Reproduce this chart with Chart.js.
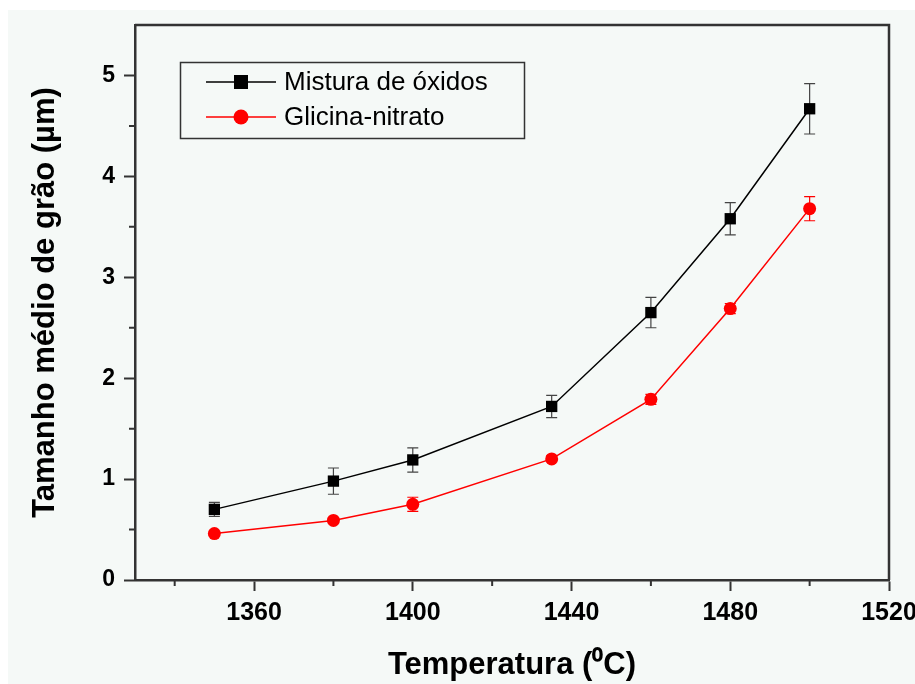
<!DOCTYPE html>
<html>
<head>
<meta charset="utf-8">
<script src="https://cdn.jsdelivr.net/npm/chart.js@4.4.0/dist/chart.umd.min.js"></script>
<style>
  html, body { margin: 0; padding: 0; background: #ffffff; }
</style>
</head>
<body>
<canvas id="grainChart" width="915" height="684"></canvas>
<script>
// values
const temperatures = [1350, 1380, 1400, 1435, 1460, 1480, 1500];
const oxideMix = [0.70, 0.98, 1.19, 1.72, 2.65, 3.58, 4.67];
const oxideMixErr = [0.07, 0.13, 0.12, 0.11, 0.15, 0.16, 0.25];
const glycineNitrate = [0.46, 0.59, 0.75, 1.20, 1.79, 2.69, 3.68];
const glycineNitrateErr = [0.02, 0.02, 0.07, 0.03, 0.05, 0.05, 0.12];
const seriesNames = ["Mistura de óxidos", "Glicina-nitrato"];
const xMajorTicks = [1360, 1400, 1440, 1480, 1520];
const xMinorTicks = [1340, 1380, 1420, 1460, 1500];
const yMajorTicks = [0, 1, 2, 3, 4, 5];
const yMinorTicks = [0.5, 1.5, 2.5, 3.5, 4.5];

const axisColor = "#333333";
const bgColor = "#f5f9f7";
const fontFamily = "'Liberation Sans', Arial, sans-serif";

const toPoints = (ys) => temperatures.map((t, i) => ({ x: t, y: ys[i] }));

// background, frame, minor ticks, error bars and the inner legend box
const decorPlugin = {
    id: "decor",
    beforeDraw(chart) {
        const ctx = chart.ctx;
        ctx.save();
        ctx.fillStyle = "#ffffff";
        ctx.fillRect(0, 0, chart.width, chart.height);
        ctx.fillStyle = bgColor;
        ctx.fillRect(8, 10, chart.width - 8, chart.height - 10);
        ctx.restore();
    },
    beforeDatasetsDraw(chart) {
        const ctx = chart.ctx;
        const xs = chart.scales.x;
        const ys = chart.scales.y;
        const errs = [oxideMixErr, glycineNitrateErr];
        const vals = [oxideMix, glycineNitrate];
        const cols = ["#444444", "#ff0000"];
        ctx.save();
        ctx.lineWidth = 1.2;
        for (let d = 0; d < 2; d++) {
            ctx.strokeStyle = cols[d];
            temperatures.forEach((t, i) => {
                const px = xs.getPixelForValue(t);
                const top = ys.getPixelForValue(vals[d][i] + errs[d][i]);
                const bot = ys.getPixelForValue(vals[d][i] - errs[d][i]);
                ctx.beginPath();
                ctx.moveTo(px, top); ctx.lineTo(px, bot);
                ctx.moveTo(px - 5.5, top); ctx.lineTo(px + 5.5, top);
                ctx.moveTo(px - 5.5, bot); ctx.lineTo(px + 5.5, bot);
                ctx.stroke();
            });
        }
        ctx.restore();
    },
    afterDraw(chart) {
        const ctx = chart.ctx;
        const area = chart.chartArea;
        const xs = chart.scales.x;
        const ys = chart.scales.y;
        ctx.save();
        // frame (top + right)
        ctx.strokeStyle = axisColor;
        ctx.lineWidth = 2.5;
        ctx.beginPath();
        ctx.moveTo(area.left, area.top);
        ctx.lineTo(area.right, area.top);
        ctx.lineTo(area.right, area.bottom);
        ctx.stroke();
        // minor ticks
        ctx.lineWidth = 2;
        ctx.beginPath();
        xMinorTicks.forEach(v => {
            const px = xs.getPixelForValue(v);
            ctx.moveTo(px, area.bottom);
            ctx.lineTo(px, area.bottom + 6);
        });
        yMinorTicks.forEach(v => {
            const py = ys.getPixelForValue(v);
            ctx.moveTo(area.left, py);
            ctx.lineTo(area.left - 6, py);
        });
        ctx.stroke();

        // legend box
        ctx.lineWidth = 1.5;
        ctx.strokeStyle = axisColor;
        ctx.strokeRect(180.5, 62.5, 344, 76);
        const rows = [
            { y: 82, color: "#000000", style: "rect" },
            { y: 117, color: "#ff0000", style: "circle" }
        ];
        ctx.font = "26px " + fontFamily;
        ctx.textBaseline = "middle";
        rows.forEach((r, i) => {
            ctx.strokeStyle = r.color;
            ctx.lineWidth = 1.5;
            ctx.beginPath();
            ctx.moveTo(206, r.y);
            ctx.lineTo(276, r.y);
            ctx.stroke();
            ctx.fillStyle = r.color;
            if (r.style === "rect") {
                ctx.fillRect(241 - 7, r.y - 7, 14, 14);
            } else {
                ctx.beginPath();
                ctx.arc(241, r.y, 7.5, 0, Math.PI * 2);
                ctx.fill();
            }
            ctx.fillStyle = "#000000";
            ctx.fillText(seriesNames[i], 284, r.y + 1);
        });
        ctx.restore();
    }
};

const ctx = document.getElementById("grainChart").getContext("2d");

const grainChart = new Chart(ctx, {
    type: "line",
    data: {
        datasets: [{
            label: seriesNames[0],
            data: toPoints(oxideMix),
            borderColor: "#000000",
            backgroundColor: "#000000",
            borderWidth: 1.5,
            pointStyle: "rect",
            pointRadius: 8,
            pointBorderWidth: 0,
            tension: 0
        }, {
            label: seriesNames[1],
            data: toPoints(glycineNitrate),
            borderColor: "#ff0000",
            backgroundColor: "#ff0000",
            borderWidth: 1.5,
            pointStyle: "circle",
            pointRadius: 6.5,
            pointBorderWidth: 0,
            tension: 0
        }]
    },
    options: {
        responsive: false,
        animation: false,
        layout: {
            autoPadding: false,
            padding: { top: 25, right: 26, left: 0, bottom: 0 }
        },
        plugins: {
            legend: { display: false },
            tooltip: { enabled: false }
        },
        scales: {
            x: {
                type: "linear",
                min: 1330,
                max: 1520,
                afterBuildTicks: axis => { axis.ticks = xMajorTicks.map(v => ({ value: v })); },
                afterFit: axis => {
                    axis.height = 104;
                    axis.paddingLeft = 0;
                    axis.paddingRight = 0;
                },
                border: { color: axisColor, width: 2.5 },
                grid: { drawOnChartArea: false, tickLength: 11, tickColor: axisColor, tickWidth: 2 },
                ticks: {
                    autoSkip: false,
                    maxRotation: 0,
                    padding: 7,
                    color: "#000000",
                    callback: v => String(v),
                    font: { family: fontFamily, size: 25, weight: "bold" }
                },
                title: {
                    display: true,
                    text: "Temperatura (⁰C)",
                    color: "#000000",
                    padding: { top: 0, bottom: 0 },
                    font: { family: fontFamily, size: 31, weight: "bold" }
                }
            },
            y: {
                min: 0,
                max: 5.5,
                afterBuildTicks: axis => { axis.ticks = yMajorTicks.map(v => ({ value: v })); },
                afterFit: axis => {
                    axis.width = 135;
                    axis.paddingTop = 0;
                    axis.paddingBottom = 0;
                },
                border: { color: axisColor, width: 2.5 },
                grid: { drawOnChartArea: false, tickLength: 11, tickColor: axisColor, tickWidth: 2 },
                ticks: {
                    padding: 9,
                    color: "#000000",
                    callback: v => String(v),
                    font: { family: fontFamily, size: 23, weight: "bold" }
                },
                title: {
                    display: true,
                    text: "Tamanho médio de grão (µm)",
                    color: "#000000",
                    padding: { top: 27, bottom: 0 },
                    font: { family: fontFamily, size: 31, weight: "bold" }
                }
            }
        }
    },
    plugins: [decorPlugin]
});
</script>
</body>
</html>
